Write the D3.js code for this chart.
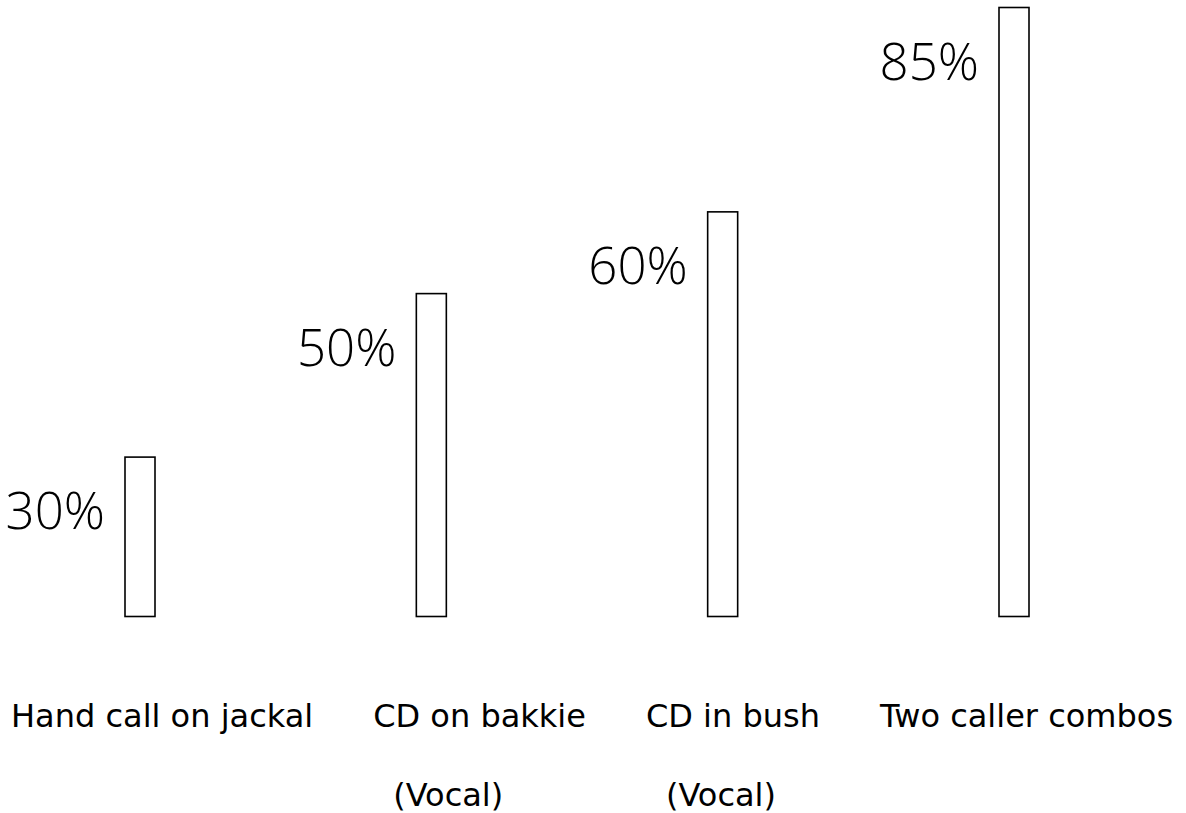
<!DOCTYPE html>
<html>
<head>
<meta charset="utf-8">
<script src="https://cdn.jsdelivr.net/npm/d3@7"></script>
<style>
  html, body { margin: 0; padding: 0; background: #fff; }
  svg { display: block; }
</style>
</head>
<body>
<svg id="chart" width="1186" height="813"></svg>
<script>
// ---- data ----
const categories = ["Hand call on jackal", "CD on bakkie", "CD in bush", "Two caller combos"];
const subLabels = ["", "(Vocal)", "(Vocal)", ""];
const values = [30, 50, 60, 85];
const valueLabels = ["30%", "50%", "60%", "85%"];

// ---- layout ----
const baseY = 616.5, topY = 7.5;
const svg = d3.select("#chart");

const x = d3.scalePoint().domain(categories).range([140, 1014]);
const y = d3.scaleLinear().domain([10.5, 85]).range([baseY, topY]);
const barW = 30;

const rows = categories.map((c, i) => ({ c, v: values[i], lab: valueLabels[i], sub: subLabels[i] }));

// bars
svg.selectAll("rect.bar").data(rows).join("rect")
  .attr("class", "bar")
  .attr("x", d => x(d.c) - barW / 2)
  .attr("y", d => y(d.v))
  .attr("width", barW)
  .attr("height", d => baseY - y(d.v))
  .attr("fill", "#fff")
  .attr("stroke", "#000")
  .attr("stroke-width", 1.6);

// value labels
svg.selectAll("text.val").data(rows).join("text")
  .attr("class", "val")
  .attr("x", d => x(d.c) - barW / 2 - 20)
  .attr("y", d => y(d.v) + 72)
  .attr("text-anchor", "end")
  .attr("font-family", "'Open Sans', 'Liberation Sans', sans-serif")
  .attr("font-weight", 300)
  .attr("font-size", 51)
  .attr("fill", "#000")
  .text(d => d.lab);

// category labels flowing along one line, sub labels indented beneath
let cursor = 11;
const gap = 60;
rows.forEach(d => {
  const t = svg.append("text")
    .attr("x", cursor)
    .attr("y", 727)
    .attr("font-family", "'DejaVu Sans', sans-serif")
    .attr("font-size", 32)
    .attr("fill", "#000")
    .text(d.c);
  if (d.sub) {
    svg.append("text")
      .attr("x", cursor + 20)
      .attr("y", 806)
      .attr("font-family", "'DejaVu Sans', sans-serif")
      .attr("font-size", 32)
      .attr("fill", "#000")
      .text(d.sub);
  }
  cursor += t.node().getComputedTextLength() + gap;
});
</script>
</body>
</html>
